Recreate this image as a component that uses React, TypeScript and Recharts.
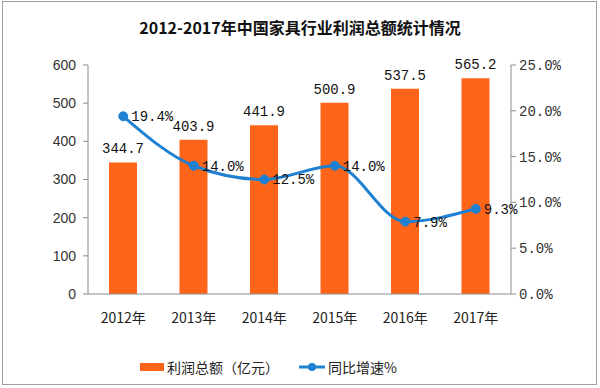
import { ComposedChart, Bar, Line, XAxis, YAxis, LabelList } from "recharts";

const title = "2012-2017年中国家具行业利润总额统计情况";
const years = ["2012年", "2013年", "2014年", "2015年", "2016年", "2017年"];
const profit = [344.7, 403.9, 441.9, 500.9, 537.5, 565.2];
const growth = [19.4, 14.0, 12.5, 14.0, 7.9, 9.3];
const profitTicks = [0, 100, 200, 300, 400, 500, 600];
const growthTicks = [0, 5, 10, 15, 20, 25];
const edgeTicks = [0, 1, 2, 3, 4, 5, 6];
const seriesNames = ["利润总额（亿元）", "同比增速%"];

const BAR = "#fe6519";
const LINE = "#1f80d1";
const AXIS = "#8c8c8c";
const mono = "'Liberation Mono', 'Noto Sans CJK SC', monospace";
const cjk = "'Noto Sans CJK SC', 'Liberation Sans', sans-serif";

const rows = years.map((year, i) => ({ year, profit: profit[i], growth: growth[i] }));

export default function App() {
  return (
    <div style={{ position: "absolute", left: 0, top: 0, width: 600, height: 388, background: "#fff" }}>
      <div
        style={{
          position: "absolute", left: 2, top: 1, width: 595, height: 384,
          border: "1px solid #a0a0a0", boxSizing: "border-box",
        }}
      />
      <div
        style={{
          position: "absolute", left: 0, top: 15, width: 600, textAlign: "center",
          fontFamily: cjk, fontWeight: 700, fontSize: 16, color: "#111", lineHeight: "24px",
        }}
      >
        {title}
      </div>
      <ComposedChart
        width={600}
        height={388}
        data={rows}
        margin={{ top: 65, right: 34, bottom: 60, left: 38 }}
        barCategoryGap="30%"
      >
        <XAxis
          xAxisId="edge"
          type="number"
          domain={[0, 6]}
          ticks={edgeTicks}
          tick={false}
          height={0}
          axisLine={false}
          tickLine={{ stroke: AXIS }}
          tickSize={5}
        />
        <XAxis
          xAxisId="cat"
          dataKey="year"
          height={34}
          axisLine={{ stroke: AXIS }}
          tickLine={false}
          tickSize={9}
          tickMargin={10}
          tick={{ fill: "#222", fontSize: 14, fontFamily: cjk }}
        />
        <YAxis
          yAxisId="left"
          domain={[0, 600]}
          ticks={profitTicks}
          width={50}
          axisLine={{ stroke: AXIS }}
          tickLine={{ stroke: AXIS }}
          tickSize={5}
          tickMargin={7}
          tick={{ fill: "#333", fontSize: 14, fontFamily: "'Liberation Sans', Arial, sans-serif" }}
        />
        <YAxis
          yAxisId="right"
          orientation="right"
          domain={[0, 25]}
          ticks={growthTicks}
          width={55}
          axisLine={{ stroke: AXIS }}
          tickLine={{ stroke: AXIS }}
          tickSize={5}
          tickMargin={3}
          tickFormatter={(v: number) => `${v.toFixed(1)}%`}
          tick={{ fill: "#333", fontSize: 14, fontFamily: mono }}
        />
        <Bar xAxisId="cat" yAxisId="left" dataKey="profit" fill={BAR} barSize={28} isAnimationActive={false}>
          <LabelList
            dataKey="profit"
            position="top"
            offset={9}
            formatter={(v: number) => v.toFixed(1)}
            style={{ fill: "#111", fontSize: 14, fontFamily: mono }}
          />
        </Bar>
        <Line
          xAxisId="cat"
          yAxisId="right"
          type="monotone"
          dataKey="growth"
          stroke={LINE}
          strokeWidth={3}
          dot={{ r: 4.5, fill: LINE, stroke: LINE, strokeWidth: 1 }}
          isAnimationActive={false}
        >
          <LabelList
            dataKey="growth"
            position="right"
            offset={8}
            formatter={(v: number) => `${v.toFixed(1)}%`}
            style={{ fill: "#111", fontSize: 14, fontFamily: mono }}
          />
        </Line>
      </ComposedChart>
      <div
        style={{
          position: "absolute", left: 140, top: 356, display: "flex", alignItems: "center",
          fontFamily: cjk, fontSize: 14, color: "#222", lineHeight: "22px",
        }}
      >
        <span style={{ display: "inline-block", width: 24, height: 8, background: BAR, marginRight: 3 }} />
        <span>{seriesNames[0]}</span>
        <svg width={26} height={12} style={{ marginLeft: 20, marginRight: 3 }}>
          <line x1={0} y1={6} x2={26} y2={6} stroke={LINE} strokeWidth={3} />
          <circle cx={13} cy={6} r={4} fill={LINE} />
        </svg>
        <span>{seriesNames[1]}</span>
      </div>
    </div>
  );
}
